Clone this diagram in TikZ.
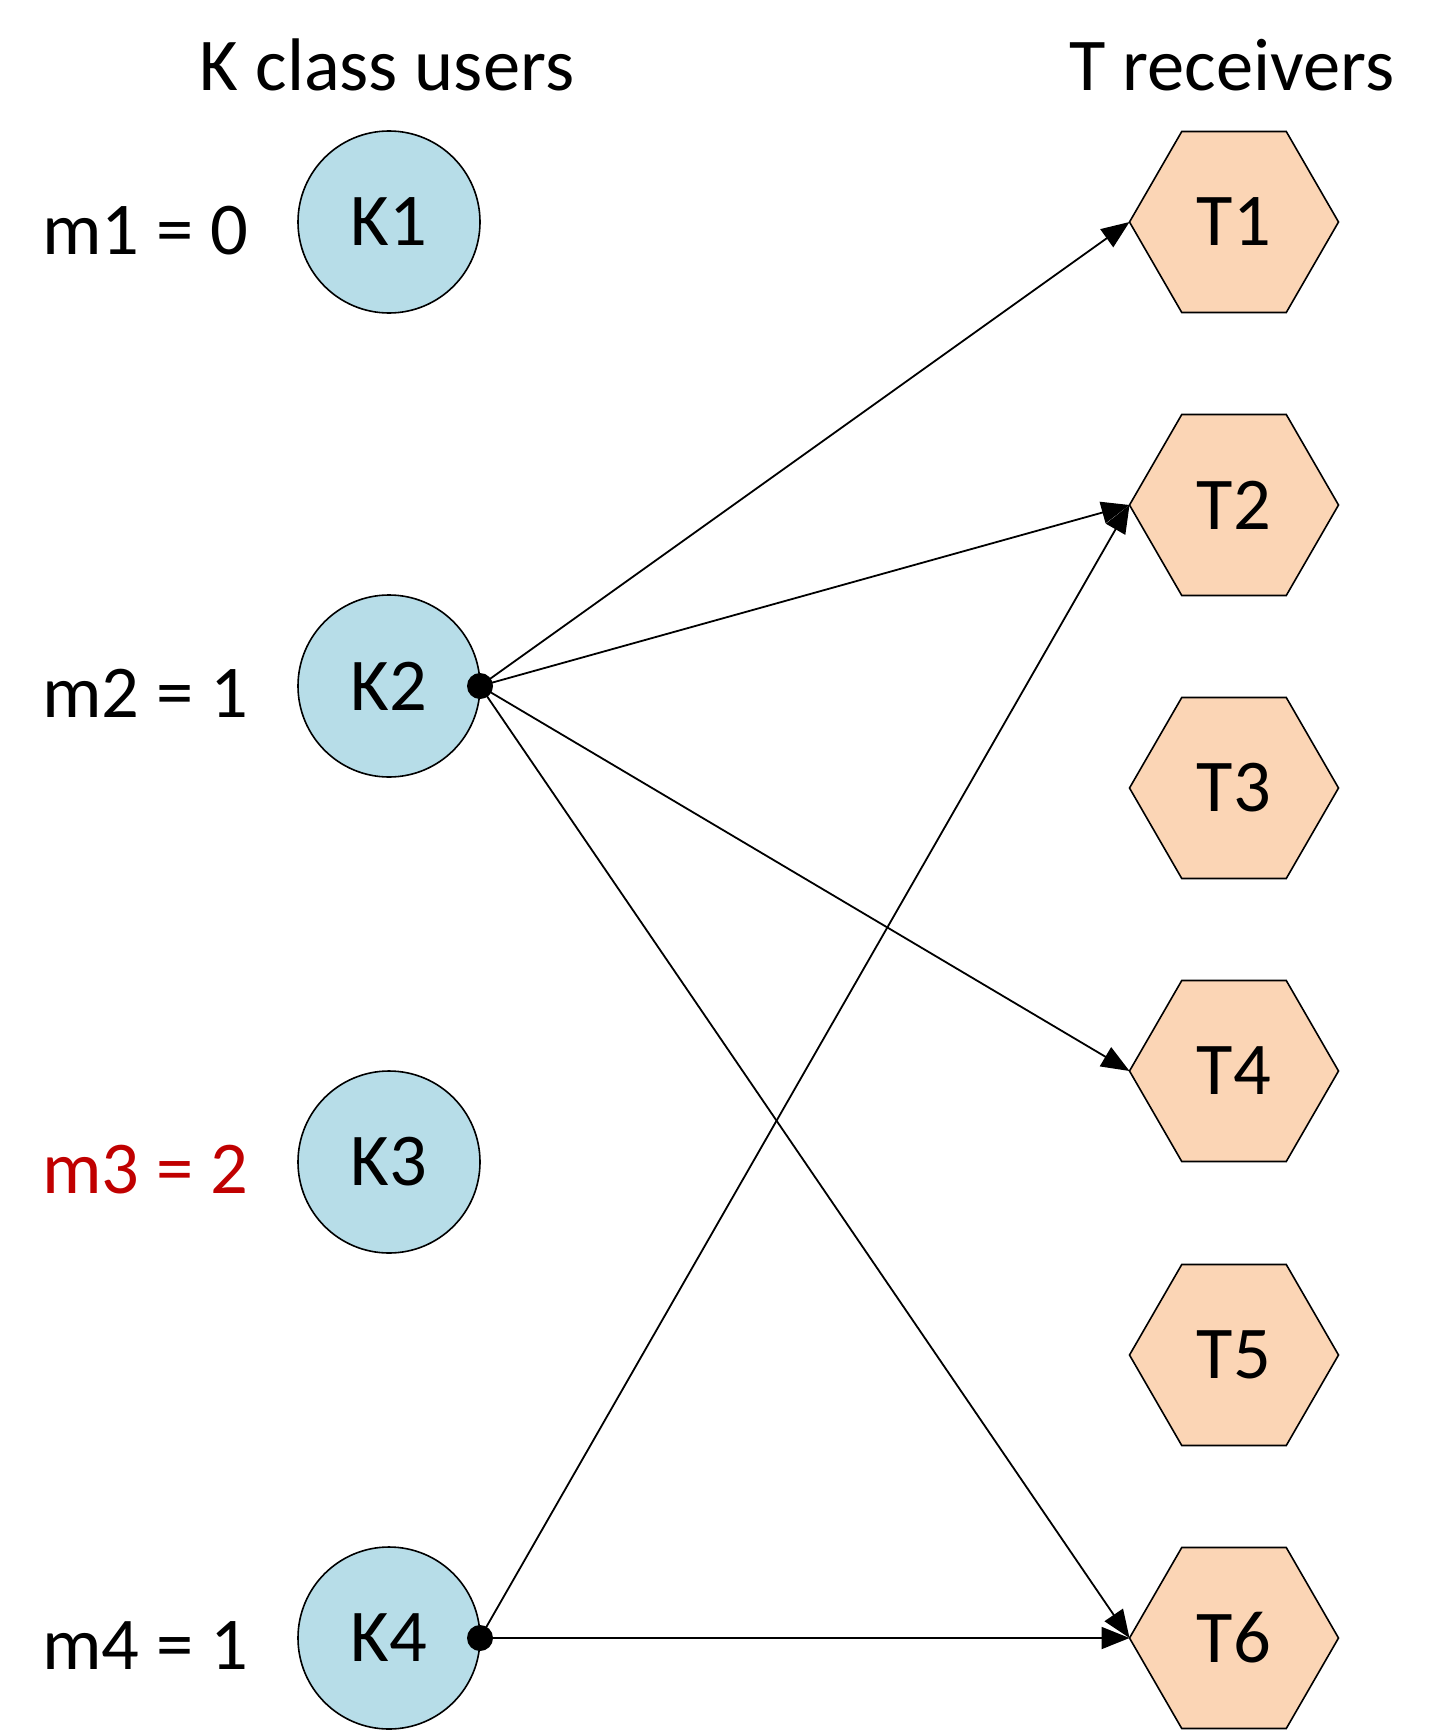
\documentclass[tikz,border=0pt]{standalone}
\usepackage{fontspec}
\setmainfont{Carlito}
\usetikzlibrary{shapes.geometric,arrows.meta}
\definecolor{userfill}{HTML}{B7DDE8}
\definecolor{recvfill}{HTML}{FBD5B5}
\definecolor{redlab}{HTML}{C00000}
\tikzset{
  big/.style={font=\fontsize{74.5}{88}\selectfont},
  user/.style={circle,draw=black,line width=1.6pt,fill=userfill,minimum size=182pt,inner sep=0pt,outer sep=0pt,big},
  recv/.style={regular polygon,regular polygon sides=6,draw=black,line width=1.6pt,fill=recvfill,minimum size=209pt,inner sep=0pt,outer sep=0pt,big},
  mlab/.style={anchor=base west,inner sep=0pt,big},
  link/.style={line width=1.8pt,-{Triangle[length=28pt,width=22pt]}},
}
\begin{document}
\begin{tikzpicture}[x=1pt,y=-1pt]
\useasboundingbox (0,0) rectangle (1438,1731);
\node[anchor=base,inner sep=0pt,big] (hK) at (387,91) {K class users};
\node[anchor=base,inner sep=0pt,big] (hT) at (1232,91) {T receivers};
\node[user] (K1) at (389,222) {K1};
\node[user] (K2) at (389,686) {K2};
\node[user] (K3) at (389,1162) {K3};
\node[user] (K4) at (389,1638) {K4};
\node[mlab] (m1) at (42,254) {m1 = 0};
\node[mlab] (m2) at (42,717) {m2 = 1};
\node[mlab,text=redlab] (m3) at (42,1193) {m3 = 2};
\node[mlab] (m4) at (42,1669) {m4 = 1};
\node[recv] (T1) at (1234,222) {T1};
\node[recv] (T2) at (1234,505) {T2};
\node[recv] (T3) at (1234,788) {T3};
\node[recv] (T4) at (1234,1071) {T4};
\node[recv] (T5) at (1234,1355) {T5};
\node[recv] (T6) at (1234,1638) {T6};
\draw[link] (K2.east) -- (T1.west);
\draw[link] (K2.east) -- (T2.west);
\draw[link] (K2.east) -- (T4.west);
\draw[link] (K2.east) -- (T6.west);
\draw[link] (K4.east) -- (T2.west);
\draw[link] (K4.east) -- (T6.west);
\fill (K2.east) circle (13pt);
\fill (K4.east) circle (13pt);
\end{tikzpicture}
\end{document}
